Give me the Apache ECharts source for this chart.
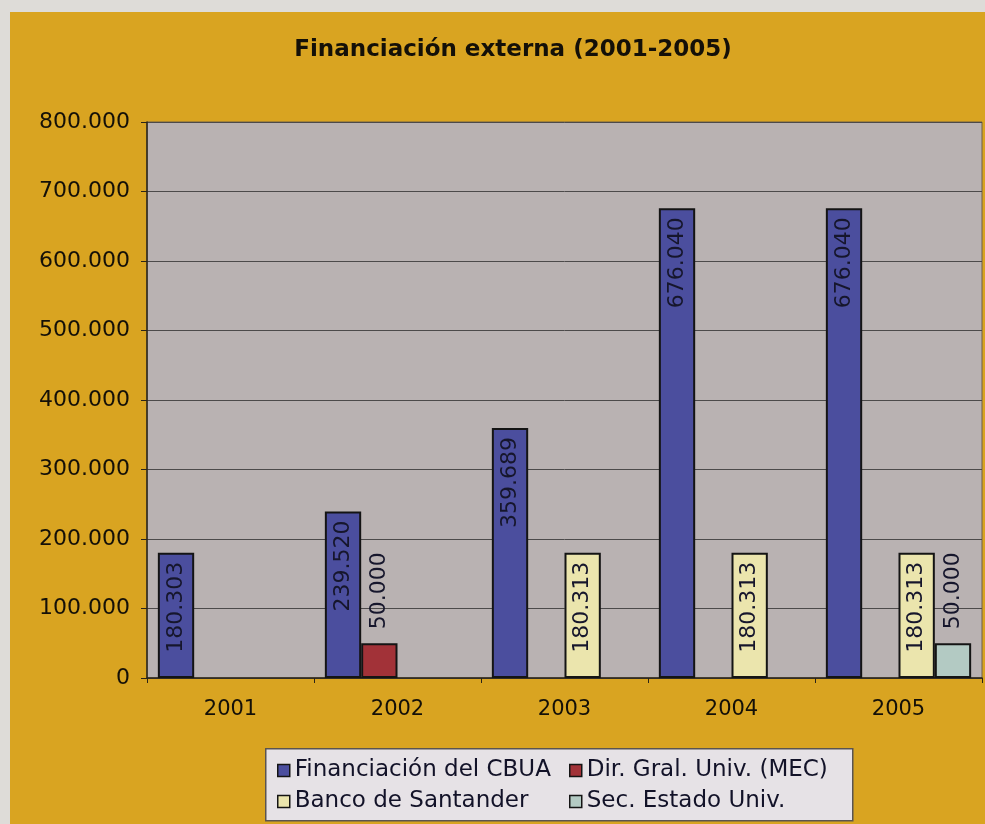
<!DOCTYPE html>
<html>
<head>
<meta charset="utf-8">
<script src="https://cdn.jsdelivr.net/npm/echarts@6/dist/echarts.min.js"></script>
<style>
  html, body { margin: 0; padding: 0; background: #dedcd8; }
  #main { position: absolute; left: 10px; top: 12px; width: 975px; height: 812px; }
</style>
</head>
<body>
<div id="main"></div>
<script>
// data
var years = ['2001', '2002', '2003', '2004', '2005'];
var cbua = [180303, 239520, 359689, 676040, 676040];
var mec = [null, 50000, null, null, null];
var santander = [null, null, 180313, 180313, 180313];
var secEstado = [null, null, null, null, 50000];
var seriesNames = ['Financiación del CBUA', 'Dir. Gral. Univ. (MEC)', 'Banco de Santander', 'Sec. Estado Univ.'];

function fmt(v) {
    return String(v).replace(/\B(?=(\d{3})+(?!\d))/g, '.');
}

var labelFont = 'DejaVu Sans, Verdana, sans-serif';

var insideLabel = {
    show: true,
    position: 'insideTop',
    rotate: 90,
    align: 'right',
    verticalAlign: 'middle',
    distance: 9,
    fontFamily: labelFont,
    fontSize: 22,
    color: '#16162c',
    formatter: function (p) { return fmt(p.value); }
};
var topLabel = Object.assign({}, insideLabel, { position: 'top', align: 'left', distance: 14 });

function bar(name, data, color, label) {
    return {
        name: name,
        type: 'bar',
        data: data,
        barGap: '0%',
        barCategoryGap: '13%',
        itemStyle: { color: color, borderColor: '#141414', borderWidth: 2 },
        label: label
    };
}

var legendText = { fontFamily: labelFont, fontSize: 23, color: '#121228' };

var myChart = echarts.init(document.getElementById('main'));
var option = {
    backgroundColor: '#d9a421',
    animation: false,
    title: {
        text: 'Financiación externa (2001-2005)',
        left: 498,
        top: 22,
        textAlign: 'center',
        textStyle: { fontFamily: labelFont, fontWeight: 'bold', fontSize: 23, color: '#141008' }
    },
    graphic: [{
        type: 'rect',
        left: 255,
        top: 736,
        shape: { width: 587, height: 72 },
        style: { fill: '#e6e2e6', stroke: '#5a5450', lineWidth: 1.5 },
        z: -1
    }],
    legend: [{
        orient: 'vertical',
        left: 262,
        top: 742,
        itemGap: 8,
        itemWidth: 12,
        itemHeight: 12,
        icon: 'rect',
        itemStyle: { borderWidth: 1.5 },
        data: [seriesNames[0], seriesNames[2]],
        textStyle: legendText
    }, {
        orient: 'vertical',
        left: 554,
        top: 742,
        itemGap: 8,
        itemWidth: 12,
        itemHeight: 12,
        icon: 'rect',
        itemStyle: { borderWidth: 1.5 },
        data: [seriesNames[1], seriesNames[3]],
        textStyle: legendText
    }],
    grid: {
        left: 137,
        top: 110,
        right: 3,
        bottom: 146,
        show: true,
        backgroundColor: '#b9b2b2',
        borderColor: '#6e6048',
        borderWidth: 1
    },
    xAxis: {
        type: 'category',
        data: years,
        axisLine: { lineStyle: { color: '#2a2418', width: 1.5 } },
        axisTick: { show: true, length: 5, lineStyle: { color: '#2a2418' } },
        axisLabel: {
            margin: 21,
            fontFamily: labelFont,
            fontSize: 21,
            color: '#141008'
        }
    },
    yAxis: {
        type: 'value',
        min: 0,
        max: 800000,
        interval: 100000,
        axisLine: { show: true, lineStyle: { color: '#2a2418', width: 1.5 } },
        axisTick: { show: true, length: 6, lineStyle: { color: '#2a2418' } },
        splitLine: { lineStyle: { color: '#4c4a4a', width: 1 } },
        axisLabel: {
            margin: 17,
            fontFamily: labelFont,
            fontSize: 22,
            color: '#141008',
            formatter: function (v) { return fmt(v); }
        }
    },
    series: [
        bar(seriesNames[0], cbua, '#4b4e9e', insideLabel),
        bar(seriesNames[1], mec, '#a23238', topLabel),
        bar(seriesNames[2], santander, '#ebe5ad', insideLabel),
        bar(seriesNames[3], secEstado, '#b3cac3', topLabel)
    ]
};
myChart.setOption(option);
</script>
</body>
</html>
